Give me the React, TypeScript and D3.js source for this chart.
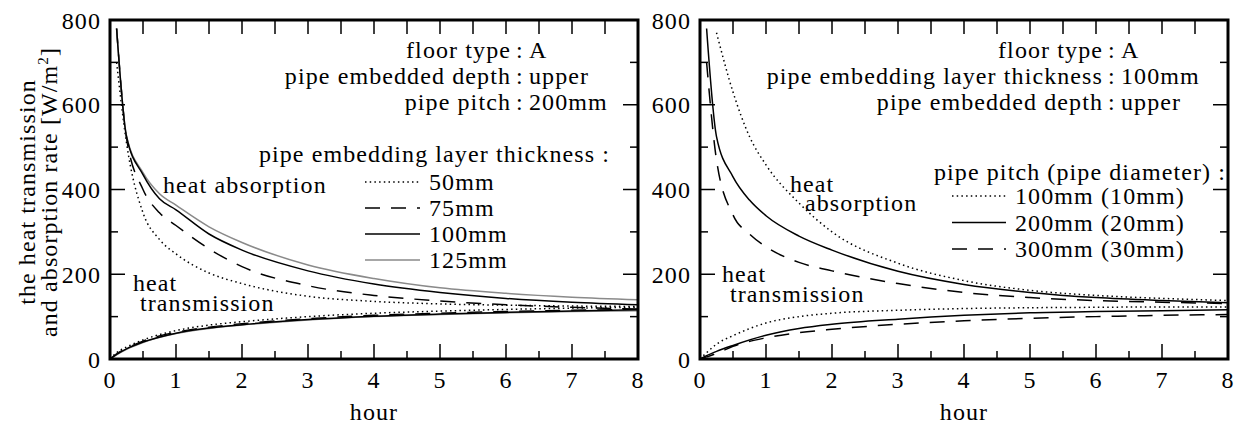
import React from 'react';
import * as d3 from 'd3';

// ---------- data ----------
const hourTicks = [0, 1, 2, 3, 4, 5, 6, 7, 8];
const valueTicks = [0, 200, 400, 600, 800];

const absHours = [0.1, 0.25, 0.5, 0.75, 1, 1.5, 2, 3, 4, 5, 6, 7, 8];
const absHoursLate = [0.25, 0.5, 0.75, 1, 1.5, 2, 3, 4, 5, 6, 7, 8];
const transHours = [0, 0.1, 0.25, 0.5, 1, 1.5, 2, 3, 4, 5, 6, 7, 8];

// left panel: pipe embedding layer thickness
const leftLabels = ['50mm', '75mm', '100mm', '125mm'];
const leftAbs50 = [700, 510, 345, 282, 248, 203, 178, 148, 136, 130, 127, 125, 124];
const leftAbs75 = [780, 522, 400, 345, 315, 260, 218, 173, 150, 137, 128, 122, 118];
const leftAbs100 = [780, 525, 435, 378, 352, 295, 257, 208, 177, 157, 143, 134, 128];
const leftAbs125 = [780, 527, 440, 390, 363, 312, 275, 222, 190, 168, 155, 146, 140];
const leftTrans50 = [0, 15, 28, 45, 67, 80, 88, 100, 108, 113, 117, 120, 122];
const leftTrans75 = [0, 12, 25, 42, 63, 75, 83, 95, 103, 108, 112, 115, 117];
const leftTrans100 = [0, 11, 24, 40, 61, 73, 81, 93, 101, 106, 110, 113, 116];
const leftTrans125 = [0, 10, 23, 39, 60, 72, 80, 92, 100, 105, 109, 112, 114];

// right panel: pipe pitch (pipe diameter)
const rightLabels = ['100mm (10mm)', '200mm (20mm)', '300mm (30mm)'];
const rightAbs100 = [770, 630, 525, 458, 368, 300, 226, 185, 162, 150, 143, 138];
const rightAbs200 = [780, 525, 430, 375, 338, 290, 257, 207, 176, 157, 145, 138, 133];
const rightAbs300 = [700, 470, 340, 295, 265, 228, 208, 178, 157, 145, 138, 134, 131];
const rightTrans100 = [0, 15, 35, 55, 85, 100, 108, 115, 119, 121, 122, 123, 123];
const rightTrans200 = [0, 8, 18, 32, 56, 72, 82, 94, 103, 109, 112, 114, 116];
const rightTrans300 = [0, 5, 13, 30, 50, 62, 70, 82, 90, 96, 100, 103, 105];

const leftInfo = [
  ['floor type', 'A'],
  ['pipe embedded depth', 'upper'],
  ['pipe pitch', '200mm'],
];
const rightInfo = [
  ['floor type', 'A'],
  ['pipe embedding layer thickness', '100mm'],
  ['pipe embedded depth', 'upper'],
];

// ---------- styles ----------
const FONT = 'Liberation Serif, DejaVu Serif, serif';
const styles: Record<string, { stroke: string; dash?: string }> = {
  dot: { stroke: '#000', dash: '1.5 3.2' },
  dash: { stroke: '#000', dash: '15 11' },
  solid: { stroke: '#000' },
  gray: { stroke: '#8a8a8a' },
};

type Series = { hours: number[]; values: number[]; style: string };
type LegendItem = { label: string; style: string };

const W = 1243;
const H = 425;
const TOP = 20;
const BOTTOM = 359;

const txtStyle: React.CSSProperties = {
  fontFamily: FONT,
  fontSize: '24px',
  letterSpacing: '1.1px',
  fill: '#000',
};

function Panel(props: {
  x0: number;
  x1: number;
  id: string;
  series: Series[];
  legendTitle: string;
  legendTitleX: number;
  legendTitleY: number;
  legend: LegendItem[];
  legendLineX: [number, number];
  legendTextX: number;
  legendY0: number;
  legendDy: number;
  info: string[][];
  colonX: number;
  children?: React.ReactNode;
}) {
  const { x0, x1 } = props;
  const x = d3.scaleLinear().domain([0, 8]).range([x0, x1]);
  const y = d3.scaleLinear().domain([0, 800]).range([BOTTOM, TOP]);
  const line = d3
    .line<[number, number]>()
    .x((d) => x(d[0]))
    .y((d) => y(d[1]))
    .curve(d3.curveMonotoneX);
  const halfTicks = d3.range(0, 8.01, 0.5);
  const yMinor = d3.range(0, 801, 100);
  return (
    <g>
      <defs>
        <clipPath id={props.id}>
          <rect x={x0} y={TOP} width={x1 - x0} height={BOTTOM - TOP} />
        </clipPath>
      </defs>
      <g clipPath={`url(#${props.id})`}>
        {props.series.map((s, i) => (
          <path
            key={i}
            d={line(s.hours.map((h, j) => [h, s.values[j]] as [number, number])) || ''}
            fill="none"
            stroke={styles[s.style].stroke}
            strokeWidth={1.5}
            strokeDasharray={styles[s.style].dash}
          />
        ))}
      </g>
      {halfTicks.map((t, i) => {
        const major = Math.abs(t - Math.round(t)) < 1e-6;
        return (
          <g key={'xt' + i}>
            <line x1={x(t)} x2={x(t)} y1={BOTTOM} y2={BOTTOM - (major ? 15 : 8)} stroke="#000" strokeWidth={1.5} />
            <line x1={x(t)} x2={x(t)} y1={TOP} y2={TOP + 14} stroke="#000" strokeWidth={1.5} />
          </g>
        );
      })}
      {yMinor.map((v, i) => {
        const len = v % 200 === 0 ? 15 : 8;
        return (
          <g key={'yt' + i}>
            <line x1={x0} x2={x0 + len} y1={y(v)} y2={y(v)} stroke="#000" strokeWidth={1.5} />
            <line x1={x1} x2={x1 - len} y1={y(v)} y2={y(v)} stroke="#000" strokeWidth={1.5} />
          </g>
        );
      })}
      <rect x={x0} y={TOP} width={x1 - x0} height={BOTTOM - TOP} fill="none" stroke="#000" strokeWidth={3} />
      {hourTicks.map((t) => (
        <text key={'xl' + t} x={x(t)} y={388} textAnchor="middle" style={txtStyle}>
          {t}
        </text>
      ))}
      {valueTicks.map((v) => (
        <text key={'yl' + v} x={x0 - 9} y={y(v) + 8.5} textAnchor="end" style={txtStyle}>
          {v}
        </text>
      ))}
      <text x={(x0 + x1) / 2} y={420} textAnchor="middle" style={txtStyle}>
        hour
      </text>
      {props.info.map((row, i) => (
        <g key={'info' + i}>
          <text x={props.colonX - 9} y={58 + i * 26} textAnchor="end" style={txtStyle}>
            {row[0]}
          </text>
          <text x={props.colonX} y={58 + i * 26} textAnchor="middle" style={txtStyle}>
            :
          </text>
          <text x={props.colonX + 9} y={58 + i * 26} textAnchor="start" style={txtStyle}>
            {row[1]}
          </text>
        </g>
      ))}
      <text x={props.legendTitleX} y={props.legendTitleY} textAnchor="end" style={txtStyle}>
        {props.legendTitle}
      </text>
      {props.legend.map((l, i) => {
        const by = props.legendY0 + i * props.legendDy;
        return (
          <g key={'lg' + i}>
            <line
              x1={props.legendLineX[0]}
              x2={props.legendLineX[1]}
              y1={by - 8}
              y2={by - 8}
              stroke={styles[l.style].stroke}
              strokeWidth={1.5}
              strokeDasharray={styles[l.style].dash}
            />
            <text x={props.legendTextX} y={by} style={txtStyle}>
              {l.label}
            </text>
          </g>
        );
      })}
      {props.children}
    </g>
  );
}

export default function App() {
  const leftSeries: Series[] = [
    { hours: absHours, values: leftAbs50, style: 'dot' },
    { hours: absHours, values: leftAbs75, style: 'dash' },
    { hours: absHours, values: leftAbs125, style: 'gray' },
    { hours: absHours, values: leftAbs100, style: 'solid' },
    { hours: transHours, values: leftTrans50, style: 'dot' },
    { hours: transHours, values: leftTrans75, style: 'dash' },
    { hours: transHours, values: leftTrans125, style: 'gray' },
    { hours: transHours, values: leftTrans100, style: 'solid' },
  ];
  const rightSeries: Series[] = [
    { hours: absHoursLate, values: rightAbs100, style: 'dot' },
    { hours: absHours, values: rightAbs200, style: 'solid' },
    { hours: absHours, values: rightAbs300, style: 'dash' },
    { hours: transHours, values: rightTrans100, style: 'dot' },
    { hours: transHours, values: rightTrans200, style: 'solid' },
    { hours: transHours, values: rightTrans300, style: 'dash' },
  ];
  const leftStyles = ['dot', 'dash', 'solid', 'gray'];
  const rightStyles = ['dot', 'solid', 'dash'];
  return (
    <svg width={W} height={H} style={{ position: 'absolute', left: 0, top: 0, background: '#fff' }}>
      <rect width={W} height={H} fill="#fff" />
      <text transform="translate(35,192) rotate(-90)" textAnchor="middle" style={txtStyle}>
        the heat transmission
      </text>
      <text transform="translate(57,192) rotate(-90)" textAnchor="middle" style={txtStyle}>
        and absorption rate [W/m
        <tspan dy={-9} style={{ fontSize: '15px' }}>2</tspan>
        <tspan dy={9}>]</tspan>
      </text>
      <Panel
        x0={110}
        x1={638}
        id="clipL"
        series={leftSeries}
        legendTitle="pipe embedding layer thickness :"
        legendTitleX={610}
        legendTitleY={162}
        legend={leftLabels.map((label, i) => ({ label, style: leftStyles[i] }))}
        legendLineX={[365, 420]}
        legendTextX={429}
        legendY0={190}
        legendDy={26}
        info={leftInfo}
        colonX={520}
      >
        <text x={163} y={193} style={txtStyle}>heat absorption</text>
        <text x={133} y={291} style={txtStyle}>heat</text>
        <text x={140} y={311} style={txtStyle}>transmission</text>
      </Panel>
      <Panel
        x0={700}
        x1={1228}
        id="clipR"
        series={rightSeries}
        legendTitle="pipe pitch (pipe diameter) :"
        legendTitleX={1226}
        legendTitleY={180}
        legend={rightLabels.map((label, i) => ({ label, style: rightStyles[i] }))}
        legendLineX={[952, 1006]}
        legendTextX={1015}
        legendY0={204}
        legendDy={26.5}
        info={rightInfo}
        colonX={1112}
      >
        <text x={790} y={192} style={txtStyle}>heat</text>
        <text x={805} y={211} style={txtStyle}>absorption</text>
        <text x={722} y={282} style={txtStyle}>heat</text>
        <text x={730} y={302} style={txtStyle}>transmission</text>
      </Panel>
    </svg>
  );
}
